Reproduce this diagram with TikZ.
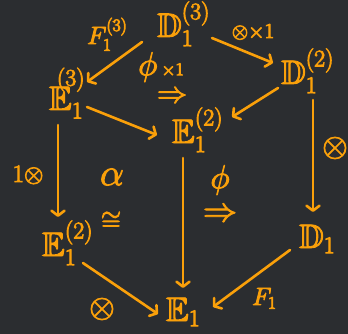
\RequirePackage{fix-cm}
\documentclass[tikz,border=0pt]{standalone}
\usepackage{amssymb}
\usetikzlibrary{arrows.meta}
\definecolor{bgc}{RGB}{43,45,48}
\definecolor{org}{RGB}{250,160,10}
\newcommand{\thk}[1]{\special{pdf:literal direct 2 Tr 0.9 w}#1\special{pdf:literal direct 0 Tr}}
\begin{document}
\begin{tikzpicture}[x=1pt,y=-1pt,
  obj/.style={text=org,inner sep=0pt,anchor=base west,font=\fontsize{34}{40}\selectfont},
  lab/.style={text=org,inner sep=0pt,font=\fontsize{25}{30}\selectfont},
  arr/.style={draw=org,line width=2.6pt,line cap=round,line join=round,
    -{Straight Barb[length=5pt,width=13pt,line cap=round,line join=round]}}]
\fill[bgc] (0,0) rectangle (348,334);
\useasboundingbox (0,0) rectangle (348,334);
% objects
\node[obj] (D3) at (157,37) {\thk{$\mathbb{D}_1^{(3)}$}};
\node[obj] (D2) at (281,84) {\thk{$\mathbb{D}_1^{(2)}$}};
\node[obj] (E3) at (49,110) {\thk{$\mathbb{E}_1^{\kern-15pt\raisebox{12pt}{$\scriptstyle(3)$}}$}};
\node[obj] (E2m) at (172,143) {\thk{$\mathbb{E}_1^{(2)}$}};
\node[obj] (E2l) at (42,256) {\thk{$\mathbb{E}_1^{(2)}$}};
\node[obj] (D1) at (299,248) {\thk{$\mathbb{D}_1$}};
\node[obj] (E1) at (166,321) {\thk{$\mathbb{E}_1$}};
% arrows
\draw[arr] ([shift={(-15,5)}]D3.base west) -- ([shift={(38,-28)}]E3.base west);
\draw[arr] ([shift={(55,1)}]D3.base west) -- ([shift={(-8,-21)}]D2.base west);
\draw[arr] ([shift={(-3,4)}]D2.base west) -- ([shift={(60,-26)}]E2m.base west);
\draw[arr] ([shift={(38,-3)}]E3.base west) -- ([shift={(-15,-8)}]E2m.base west);
\draw[arr] ([shift={(9,15)}]E3.base west) -- ([shift={(16,-39)}]E2l.base west);
\draw[arr] ([shift={(11,15)}]E2m.base west) -- ([shift={(17,-33)}]E1.base west);
\draw[arr] ([shift={(32,16)}]D2.base west) -- ([shift={(14,-36)}]D1.base west);
\draw[arr] ([shift={(41,7)}]E2l.base west) -- ([shift={(-8,-7)}]E1.base west);
\draw[arr] ([shift={(-9,2)}]D1.base west) -- ([shift={(47,-14)}]E1.base west);
% labels
\node[lab,anchor=base west] (lF3) at (87,44) {\thk{$F_1^{(3)}$}};
\node[lab,font=\fontsize{21}{26}\selectfont] (lTx) at (253,32) {\thk{$\otimes{\times}1$}};
\node[lab] (lphi1) at (161,67) {\thk{{\fontsize{33}{33}\selectfont$\phi$}\,{\fontsize{18}{18}\selectfont$\times1$}}};
\node[lab,font=\fontsize{30}{30}\selectfont] (lR1) at (172,97) {\thk{$\Rightarrow$}};
\node[lab,font=\fontsize{38}{40}\selectfont] (lal) at (112,177) {\thk{$\alpha$}};
\node[lab,font=\fontsize{26}{30}\selectfont] (lcong) at (111,221) {\thk{$\cong$}};
\node[lab,font=\fontsize{33}{33}\selectfont] (lphi2) at (220,180) {\thk{$\phi$}};
\node[lab,font=\fontsize{34}{34}\selectfont] (lR2) at (220,215) {\thk{$\Rightarrow$}};
\node[lab] (l1t) at (28,175) {\thk{$1\otimes$}};
\node[lab,font=\fontsize{33}{33}\selectfont] (ltr) at (335,148) {\thk{$\otimes$}};
\node[lab,font=\fontsize{33}{33}\selectfont] (ltb) at (102,309) {\thk{$\otimes$}};
\node[lab,anchor=base west] (lF1) at (252,305) {\thk{$F_1$}};
\end{tikzpicture}
\end{document}
